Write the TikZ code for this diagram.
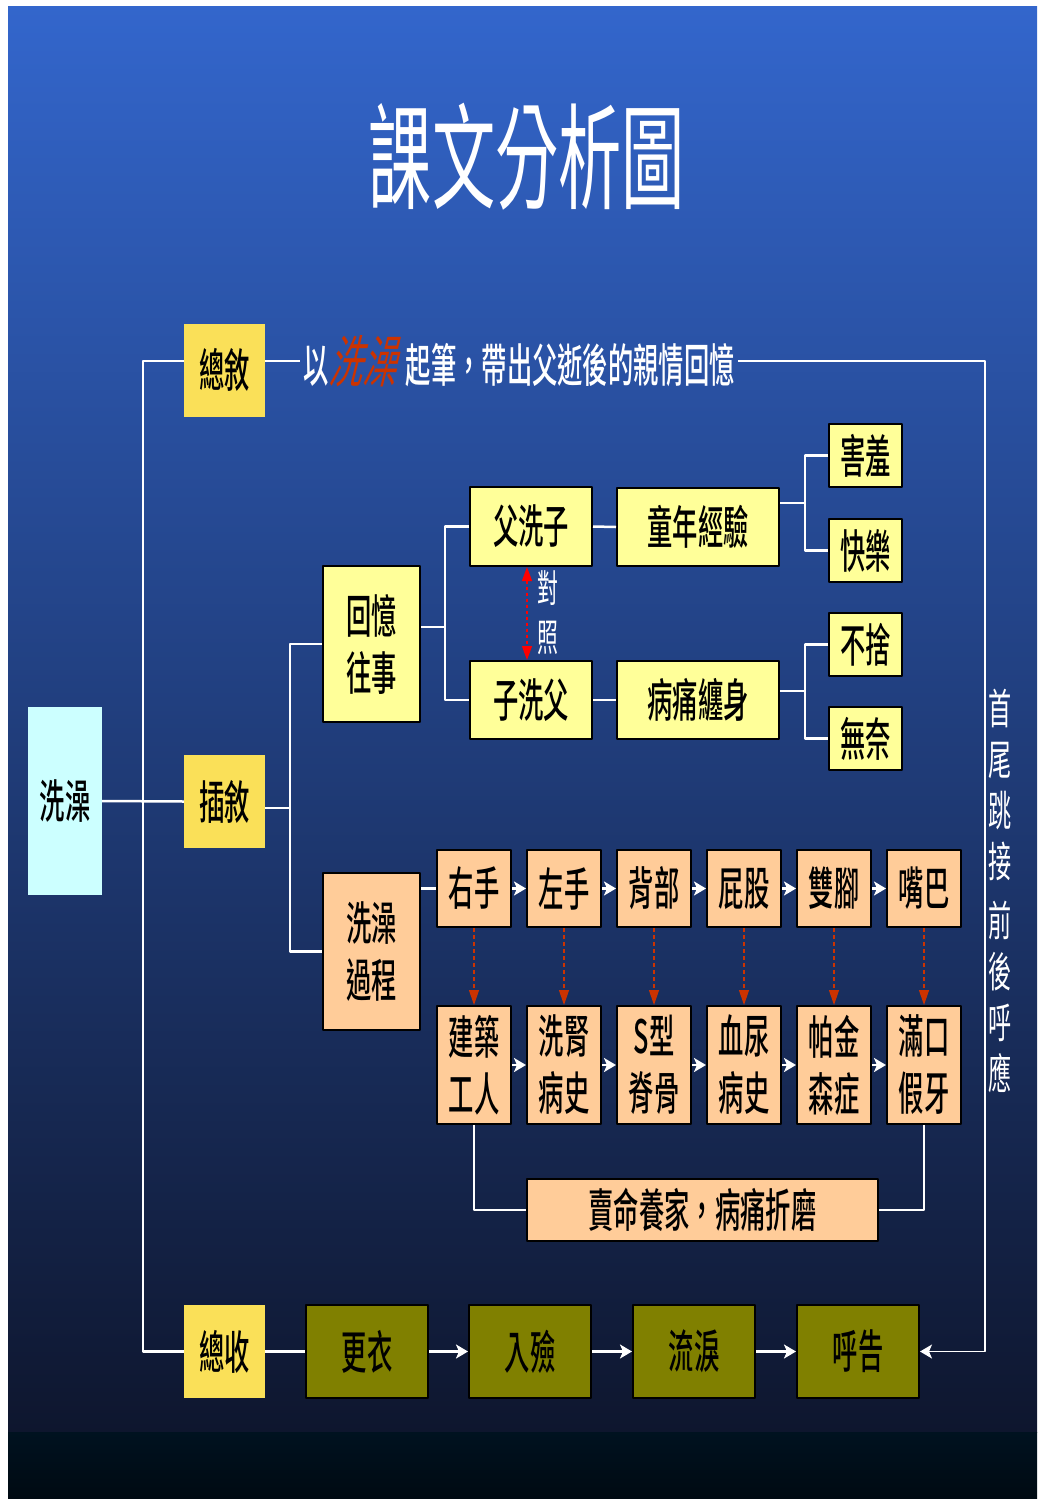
\documentclass[tikz,border=0pt]{standalone}
\usepackage{fontspec}
\usetikzlibrary{arrows.meta}
\newfontfamily\hei[FakeStretch=0.55,BoldFont={Noto Sans CJK TC Medium}]{Noto Sans CJK TC}
\newfontfamily\heislant[FakeStretch=0.6,FakeSlant=0.25]{Noto Sans CJK TC}
\definecolor{goldbox}{RGB}{250,224,88}
\definecolor{paleyellow}{RGB}{255,255,153}
\definecolor{peach}{RGB}{255,204,153}
\definecolor{olivebox}{RGB}{128,128,0}
\definecolor{icecyan}{RGB}{204,255,255}
\definecolor{rust}{RGB}{204,51,0}
\definecolor{skytop}{RGB}{51,102,204}
\definecolor{skymid}{RGB}{36,72,148}
\definecolor{skylow}{RGB}{14,22,46}
\definecolor{navyband}{RGB}{0,18,32}
\definecolor{navyfoot}{RGB}{0,10,18}
\tikzset{
  txt/.style={font=\hei\bfseries\fontsize{46}{57}\selectfont, text=black, inner sep=0pt, align=center},
  goldnode/.style={txt, fill=goldbox, minimum width=81pt, minimum height=93pt},
  palenode/.style={txt, fill=paleyellow, draw=black, line width=2pt},
  peachnode/.style={txt, fill=peach, draw=black, line width=2pt},
  olivenode/.style={txt, fill=olivebox, draw=black, line width=2pt, minimum width=122pt, minimum height=93pt},
  link/.style={draw=white, line width=2.5pt},
  warrow/.style={link, -{Stealth[length=12pt,width=14pt,inset=3pt]}},
  rustdash/.style={draw=rust, line width=1.2pt, dash pattern=on 4pt off 3pt, -{Triangle[length=15pt,width=10pt]}},
}
\begin{document}
\begin{tikzpicture}[x=1pt,y=-1pt,line join=round]
  % background
  \useasboundingbox (0,0) rectangle (1038,1499);
  \shade[top color=skytop, middle color=skymid, bottom color=skylow] (8,6) rectangle (1037,1432);
  \shade[top color=navyband, bottom color=navyfoot] (8,1432) rectangle (1037,1499);

  % title and headline
  \node[text=white, font=\hei\fontsize{115}{115}\selectfont] (title) at (527,157) {課文分析圖};
  \node[inner sep=3pt, text=white, font=\hei\bfseries\fontsize{46}{46}\selectfont] (sub) at (519,361)
    {以{\heislant\mdseries\fontsize{56}{56}\selectfont\color{rust}洗澡}\hspace{10pt}起筆，帶出父逝後的親情回憶};

  % left column
  \node[txt, fill=icecyan, minimum width=74pt, minimum height=188pt] (xz) at (65,801) {洗澡};
  \node[goldnode] (zx) at (224.5,370) {總敘};
  \node[goldnode] (cx) at (224.5,801.5) {插敘};
  \node[goldnode] (zs) at (224.5,1351.5) {總收};

  % flashback branch
  \node[palenode, minimum width=97pt, minimum height=156pt] (hy) at (371.5,644) {回憶\\往事};
  \node[peachnode, minimum width=97pt, minimum height=157pt] (xg) at (371.5,951.5) {洗澡\\過程};
  \node[palenode, minimum width=122pt, minimum height=79pt] (fxz) at (531,526.5) {父洗子};
  \node[palenode, minimum width=122pt, minimum height=78pt] (zxf) at (531,700) {子洗父};
  \node[palenode, minimum width=162pt, minimum height=78pt] (tn) at (698,527) {童年經驗};
  \node[palenode, minimum width=162pt, minimum height=78pt] (bt) at (698,700) {病痛纏身};
  \node[palenode, minimum width=73pt, minimum height=63pt] (hx) at (865.5,455.5) {害羞};
  \node[palenode, minimum width=73pt, minimum height=63pt] (kl) at (865.5,550.5) {快樂};
  \node[palenode, minimum width=73pt, minimum height=63pt] (bs) at (865.5,644.5) {不捨};
  \node[palenode, minimum width=73pt, minimum height=63pt] (wn) at (865.5,738.5) {無奈};
  \node[text=white, font=\hei\fontsize{38}{38}\selectfont, inner sep=0pt] (dui) at (548,588) {對};
  \node[text=white, font=\hei\fontsize{38}{38}\selectfont, inner sep=0pt] (zhao) at (548,638) {照};

  % washing sequence
  \foreach \t [count=\i] in {右手,左手,背部,屁股,雙腳,嘴巴}
    \node[peachnode, minimum width=74pt, minimum height=77pt] (t\i) at (384+90*\i,888.5) {\t};
  \foreach \t [count=\i] in {建築\\工人,洗腎\\病史,S型\\脊骨,血尿\\病史,帕金\\森症,滿口\\假牙}
    \node[peachnode, minimum width=74pt, minimum height=118pt] (b\i) at (384+90*\i,1065) {\t};
  \node[peachnode, minimum width=351pt, minimum height=62pt] (mm) at (702.5,1210) {賣命養家，病痛折磨};

  % closing row
  \node[olivenode] (gy) at (367,1351.5) {更衣};
  \node[olivenode] (rj) at (530,1351.5) {入殮};
  \node[olivenode] (ll) at (694,1351.5) {流淚};
  \node[olivenode] (hg) at (858,1351.5) {呼告};
  \node[text=white, font=\hei\fontsize{42}{51}\selectfont, align=center, inner sep=0pt] (motto) at (1000,891)
    {首\\尾\\跳\\接\\[8pt]前\\後\\呼\\應};

  % junctions
  \coordinate (lft) at (143,801);
  \coordinate (rgt) at (985,361);
  \coordinate (cxj) at (290,808);
  \coordinate (hyj) at (445,627);
  \coordinate (tnj) at (805,503);
  \coordinate (btj) at (805,691);

  % connectors
  \draw[link] (zx.west |- sub) -| (lft) |- (zs.west);
  \draw[link] (zx.east |- sub) -- (sub.west);
  \draw[link, line width=1.5pt, -{Stealth[length=12pt,width=14pt,inset=3pt]}] (sub.east) -- (rgt) |- (hg.east);
  \draw[link] (xz.east) -- (cx.west);
  \draw[link] (cx.east |- cxj) -- (cxj);
  \draw[link] (hy.west) -| (cxj) |- (xg.west);
  \draw[link] (hy.east |- hyj) -- (hyj);
  \draw[link] (fxz.west) -| (hyj) |- (zxf.west);
  \draw[link] (fxz.east) -- (tn.west);
  \draw[link] (zxf.east) -- (bt.west);
  \draw[link] (tn.east |- tnj) -- (tnj);
  \draw[link] (hx.west) -| (tnj) |- (kl.west);
  \draw[link] (bt.east |- btj) -- (btj);
  \draw[link] (bs.west) -| (btj) |- (wn.west);
  \draw[red, line width=1.2pt, dash pattern=on 3pt off 3pt, {Triangle[length=14pt,width=10pt]}-{Triangle[length=14pt,width=10pt]}]
    ([xshift=-4pt]fxz.south) -- ([xshift=-4pt]zxf.north);
  \draw[link] (xg.east |- t1.west) -- (t1.west);
  \foreach \i [evaluate=\i as \j using int(\i+1)] in {1,...,5} {
    \draw[warrow] (t\i.east) -- (t\j.west);
    \draw[warrow] (b\i.east) -- (b\j.west);
  }
  \foreach \i in {1,...,6}
    \draw[rustdash] (t\i.south) -- (b\i.north);
  \draw[link] (b1.south) |- (mm.west);
  \draw[link] (b6.south) |- (mm.east);
  \draw[link] (zs.east) -- (gy.west);
  \draw[warrow] (gy.east) -- (rj.west);
  \draw[warrow] (rj.east) -- (ll.west);
  \draw[warrow] (ll.east) -- (hg.west);
\end{tikzpicture}
\end{document}
